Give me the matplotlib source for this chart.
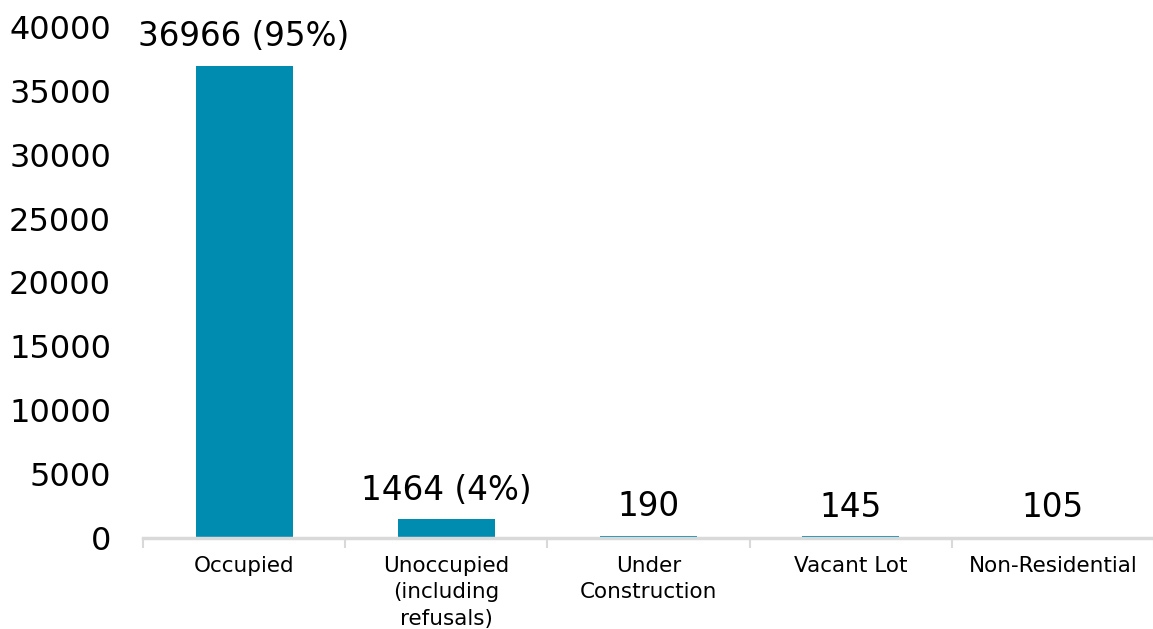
import matplotlib
matplotlib.use("Agg")
from matplotlib import pyplot as plt
import numpy as np

# данные
categories = ["Occupied", "Unoccupied\n(including\nrefusals)", "Under\nConstruction",
              "Vacant Lot", "Non-Residential"]
counts = [36966, 1464, 190, 145, 105]
bar_labels = ["36966 (95%)", "1464 (4%)", "190", "145", "105"]
yticks = [0, 5000, 10000, 15000, 20000, 25000, 30000, 35000, 40000]

fig = plt.figure(figsize=(11.53, 6.29), dpi=100)
ax = fig.add_axes([0.124, 0.1447, 0.877, 0.8124])

x = np.arange(len(categories))
bars = ax.bar(x, counts, width=0.48, color="#008BB0", zorder=2)

for xi, c, lab in zip(x, counts, bar_labels):
    ax.annotate(lab, (xi, c), xytext=(0, 14), textcoords="offset points",
                ha="center", va="baseline", fontsize=23.5, color="black")

ax.set_xlim(-0.5, len(categories) - 0.5)
ax.set_ylim(0, 40000)
ax.set_yticks(yticks)
ax.set_yticklabels([str(t) for t in yticks], fontsize=23)
ax.tick_params(axis="y", length=0, pad=23)

ax.set_xticks(x)
ax.set_xticklabels(categories, fontsize=15.5, linespacing=1.4)
ax.tick_params(axis="x", which="major", length=0, pad=13)
ax.set_xticks(np.arange(len(categories) + 1) - 0.5, minor=True)
ax.tick_params(axis="x", which="minor", length=7, width=1.5, color="#d9d9d9")

for s in ["top", "right", "left"]:
    ax.spines[s].set_visible(False)
ax.spines["bottom"].set_color("#d9d9d9")
ax.spines["bottom"].set_linewidth(2.5)
ax.spines["bottom"].set_zorder(3)

fig.savefig("out.png", dpi=100)
